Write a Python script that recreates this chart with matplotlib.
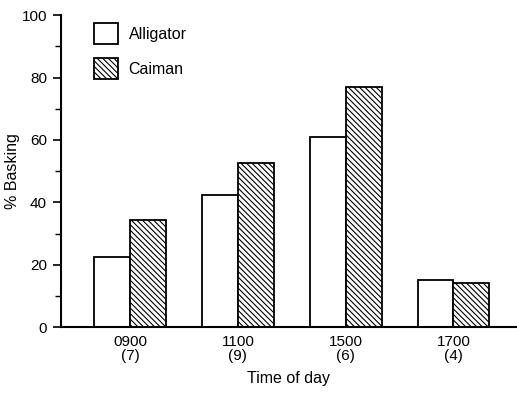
import numpy as np
import matplotlib
matplotlib.use("Agg")
import matplotlib.pyplot as plt
from matplotlib.ticker import MultipleLocator

times = ["0900\n(7)", "1100\n(9)", "1500\n(6)", "1700\n(4)"]
alligator = [22.6, 42.5, 61.0, 15.0]
caiman = [34.5, 52.5, 77.0, 14.3]

plt.rcParams["font.family"] = ["Liberation Sans", "DejaVu Sans"]
plt.rcParams["hatch.linewidth"] = 0.8

fig = plt.figure(figsize=(5.17, 3.98), dpi=100)
ax = fig.add_axes([0.118, 0.178, 0.88, 0.784])

x = np.arange(len(times))
w = 0.333
ax.bar(x - w / 2, alligator, w, color="white", edgecolor="black", linewidth=1.3, label="Alligator")
ax.bar(x + w / 2, caiman, w, color="white", edgecolor="black", linewidth=1.3,
       hatch="\\" * 6, label="Caiman")

ax.set_xlim(-0.64, 3.58)
ax.set_ylim(0, 100)
ax.yaxis.set_major_locator(MultipleLocator(20))
ax.yaxis.set_minor_locator(MultipleLocator(10))
ax.set_xticks(x)
ax.set_xticklabels(times, fontsize=11, linespacing=0.95)
ax.tick_params(axis="x", length=0, pad=6)
ax.tick_params(axis="y", which="major", length=6, width=1.2, labelsize=11, pad=4)
ax.tick_params(axis="y", which="minor", length=4, width=1.0)

for s in ["top", "right"]:
    ax.spines[s].set_visible(False)
for s in ["left", "bottom"]:
    ax.spines[s].set_linewidth(1.5)

ax.set_xlabel("Time of day", fontsize=11.5, labelpad=6)
ax.set_ylabel("% Basking", fontsize=11.5, labelpad=1)

ax.legend(loc="upper left", bbox_to_anchor=(0.04, 1.02), frameon=False, fontsize=11.5,
          handlelength=1.5, handleheight=1.6, handletextpad=0.7, labelspacing=0.9)

fig.savefig("out.png", dpi=100)
